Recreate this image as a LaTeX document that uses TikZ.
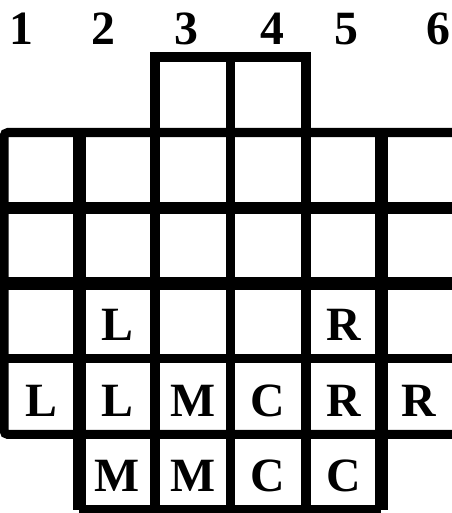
\documentclass[tikz,border=0pt]{standalone}
\usepackage{fontspec}
\setmainfont{Liberation Serif}
\begin{document}
\begin{tikzpicture}[x=2cm,y=2cm,
  gridline/.style={line width=6.8pt},
  thickline/.style={line width=9.2pt},
  lbl/.style={font=\fontsize{36}{42}\selectfont\bfseries,inner sep=0pt}]
\clip (-0.053,-0.04) rectangle (5.934,6.755);
% column numbers
\foreach \n/\xc in {1/0.225,2/1.32,3/2.42,4/3.55,5/4.53,6/5.76}
  \node[lbl] (num\n) at (\xc,6.37) {\n};
% rows, open on the right
\draw[gridline,rounded corners=3pt] (6.2,5) -- (0,5) -- (0,1) -- (6.2,1);
\draw[thickline] (0,4) -- (6.2,4);
\draw[thickline] (0,3) -- (6.2,3);
\draw[gridline] (0,2) -- (6.2,2);
% columns
\draw[thickline] (1,5) -- (1,0);
\draw[gridline] (2,0) |- (4,6) -- (4,0);
\draw[gridline] (3,6) -- (3,0);
\draw[thickline] (5,5) -- (5,0);
\draw[gridline] (1,0) -- (5,0);
% letters
\foreach \nm/\cx/\cy/\t in {rowL/1/2/L,rowR/4/2/R,
    botL/0/1/L,botLL/1/1/L,botM/2/1/M,botC/3/1/C,botR/4/1/R,botRR/5/1/R,
    lastM/1/0/M,lastMM/2/0/M,lastC/3/0/C,lastCC/4/0/C}
  \node[lbl] (\nm) at (\cx+0.5,\cy+0.45) {\t};
\end{tikzpicture}
\end{document}
